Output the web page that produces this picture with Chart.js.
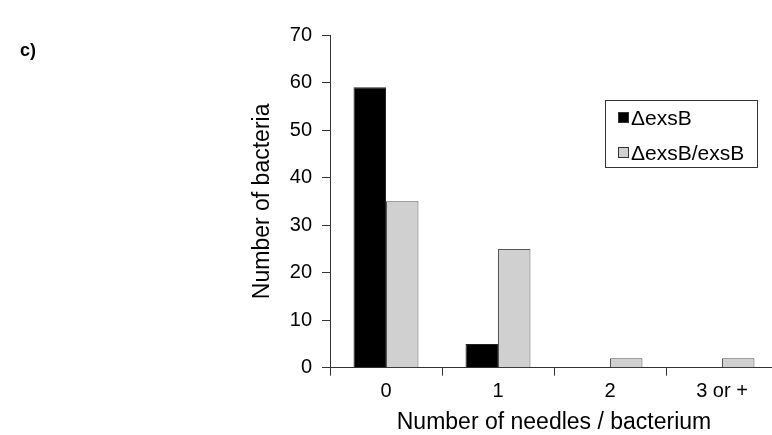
<!DOCTYPE html>
<html lang="en">
<head>
    <meta charset="UTF-8">
    <title>Needles per bacterium</title>
    <script src="https://cdn.jsdelivr.net/npm/chart.js"></script>
    <style>
        body { margin: 0; background: #fff; overflow: hidden; }
        #wrap { position: relative; width: 772px; height: 435px; overflow: hidden; }
        #panel { position: absolute; left: 20px; top: 40px; font: bold 18px "Liberation Sans", Arial, sans-serif; }
    </style>
</head>
<body>
<div id="wrap">
    <canvas id="needleChart" width="778" height="435"></canvas>
    <div id="panel">c)</div>
</div>
<script>
    // values
    const categories = ['0', '1', '2', '3 or +'];
    const mutantCounts = [59, 5, 0, 0];        // ΔexsB
    const complementedCounts = [35, 25, 2, 2]; // ΔexsB/exsB
    const seriesNames = ['\u0394exsB', '\u0394exsB/exsB'];

    const FONT = '"Liberation Sans", Arial, sans-serif';

    // boxed legend sitting inside the plot, top right
    const boxLegend = {
        id: 'boxLegend',
        afterDraw(chart) {
            const ctx = chart.ctx;
            const x = 605, y = 100, w = 152, h = 67;
            ctx.save();
            ctx.strokeStyle = '#333';
            ctx.lineWidth = 1;
            ctx.strokeRect(x + 0.5, y + 0.5, w, h);
            ctx.font = '21px ' + FONT;
            ctx.textBaseline = 'middle';
            chart.data.datasets.forEach((ds, i) => {
                const cy = y + 18 + i * 35;
                ctx.fillStyle = ds.backgroundColor;
                ctx.fillRect(618, cy - 6, 11, 11);
                ctx.strokeStyle = '#333';
                ctx.strokeRect(618.5, cy - 5.5, 10, 10);
                ctx.fillStyle = '#000';
                ctx.fillText(ds.label, 631, cy + 1);
            });
            ctx.restore();
        }
    };

    const ctx = document.getElementById('needleChart').getContext('2d');
    new Chart(ctx, {
        type: 'bar',
        data: {
            labels: categories,
            datasets: [{
                label: seriesNames[0],
                data: mutantCounts,
                backgroundColor: '#000000',
                borderColor: '#222222',
                borderWidth: 1
            }, {
                label: seriesNames[1],
                data: complementedCounts,
                backgroundColor: '#d0d0d0',
                borderColor: '#555555',
                borderWidth: 1
            }]
        },
        options: {
            responsive: false,
            animation: false,
            devicePixelRatio: 1,
            categoryPercentage: 0.58,
            barPercentage: 1,
            layout: { padding: { left: 250, top: 35, right: 0, bottom: 0 } },
            plugins: {
                legend: { display: false },
                tooltip: { enabled: false }
            },
            scales: {
                x: {
                    offset: true,
                    grid: {
                        offset: true,
                        drawOnChartArea: false,
                        tickLength: 8,
                        color: '#333'
                    },
                    border: { color: '#333', width: 1 },
                    ticks: {
                        color: '#000',
                        font: { family: FONT, size: 20 },
                        padding: 4
                    },
                    title: {
                        display: true,
                        text: 'Number of needles / bacterium',
                        color: '#000',
                        font: { family: FONT, size: 23, lineHeight: 1.1 },
                        padding: { top: 2, bottom: 0 }
                    }
                },
                y: {
                    min: 0,
                    max: 70,
                    ticks: {
                        stepSize: 10,
                        color: '#000',
                        font: { family: FONT, size: 20 },
                        padding: 10
                    },
                    grid: {
                        drawOnChartArea: false,
                        tickLength: 8,
                        color: '#333'
                    },
                    border: { color: '#333', width: 1 },
                    title: {
                        display: true,
                        text: 'Number of bacteria',
                        color: '#000',
                        font: { family: FONT, size: 23, lineHeight: 1.1 },
                        padding: { top: 0, bottom: 0 }
                    },
                    afterFit(scale) { scale.width = 80; }
                }
            }
        },
        plugins: [boxLegend]
    });
</script>
</body>
</html>
